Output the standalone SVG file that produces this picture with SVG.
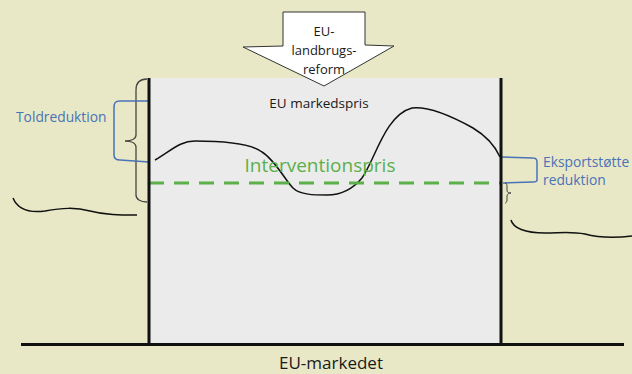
<svg xmlns="http://www.w3.org/2000/svg" width="632" height="374" viewBox="0 0 632 374">
<style>
text{font-family:"Open Sans","Liberation Sans",sans-serif;}
.blk{fill:#1a1a1a;}
.blue{fill:#4a72b8;}
.bline{fill:none;stroke:#4a72b8;stroke-width:1.5;}
.curve{fill:none;stroke:#111;stroke-width:1.5;}
.wall{stroke:#111;stroke-width:3;fill:none;}
</style>
<rect x="0" y="0" width="632" height="374" fill="#e8e8c6"/>
<g id="market-box">
<rect x="149" y="78" width="352" height="266" fill="#ebebeb"/>
</g>
<g id="connectors">
<path class="curve" d="M155,160 C172,150 180,141 195,141 C225,141 250,143 262,152 C275,160 285,180 293,188 C300,195 315,195 327,195 C340,195 352,190 362,178 C375,160 385,115 412,108 C430,106 455,118 473,128 C488,137 496,148 500,157"/>
<line x1="149" y1="183" x2="501" y2="183" stroke="#5bb04a" stroke-width="3" stroke-dasharray="15,10"/>
<path class="curve" d="M13,198 C18,210 30,213 45,211 C62,208 75,207 90,211 C105,215 120,215 137,215"/>
<path class="curve" d="M511,220 C513,228 525,233 545,233 C560,233 570,231 585,234 C600,238 615,238 632,236"/>
<path fill="none" stroke="#444" stroke-width="1.3" d="M147,79 C140,79 136,83 136,90 L136,135 C136,139 131,141 125,141 C131,141 136,143 136,147 L136,195 C136,199 140,202 147,202"/>
<path class="bline" d="M149,101 L120,101 C115,101 114,103 114,108 L114,155 C114,159 116,160 120,160 L149,162"/>
<path class="bline" d="M502,157 L533,158 C536,158 537,159 537,162 L537,180 C537,182 535,182 533,182 L503,183"/>
<path fill="none" stroke="#444" stroke-width="1" d="M505,183 C507,183 507,185 507,188 L507,191 C507,192 509,193 511,193 C509,193 507,194 507,196 L507,200 C507,202 506,203 505,203"/>
<path class="wall" d="M149,78 L149,345"/>
<path class="wall" d="M501,78 L501,345"/>
<path class="wall" d="M21,344.5 L624,344.5"/>
</g>
<g id="reform-arrow">
<path d="M283,12 L365,12 L365,45 L394,46 L324,86 L243,47 L283,46 Z" fill="#ffffff" stroke="#333" stroke-width="1"/>
<text x="324" y="36" font-size="13" text-anchor="middle" class="blk">EU-</text>
<text x="324" y="55" font-size="13" text-anchor="middle" class="blk">landbrugs-</text>
<text x="324" y="74" font-size="13" text-anchor="middle" class="blk">reform</text>
</g>
<g id="labels">
<text x="319" y="108" font-size="13.5" text-anchor="middle" class="blk">EU markedspris</text>
<text x="320" y="172" font-size="19" text-anchor="middle" fill="#5bb04a">Interventionspris</text>
<text x="16" y="122" font-size="13.8" class="blue">Toldreduktion</text>
<text x="543" y="167" font-size="13.8" class="blue">Eksportstøtte</text>
<text x="543" y="185" font-size="13.8" class="blue">reduktion</text>
<text x="331" y="369" font-size="17" text-anchor="middle" class="blk">EU-markedet</text>
</g>
</svg>
